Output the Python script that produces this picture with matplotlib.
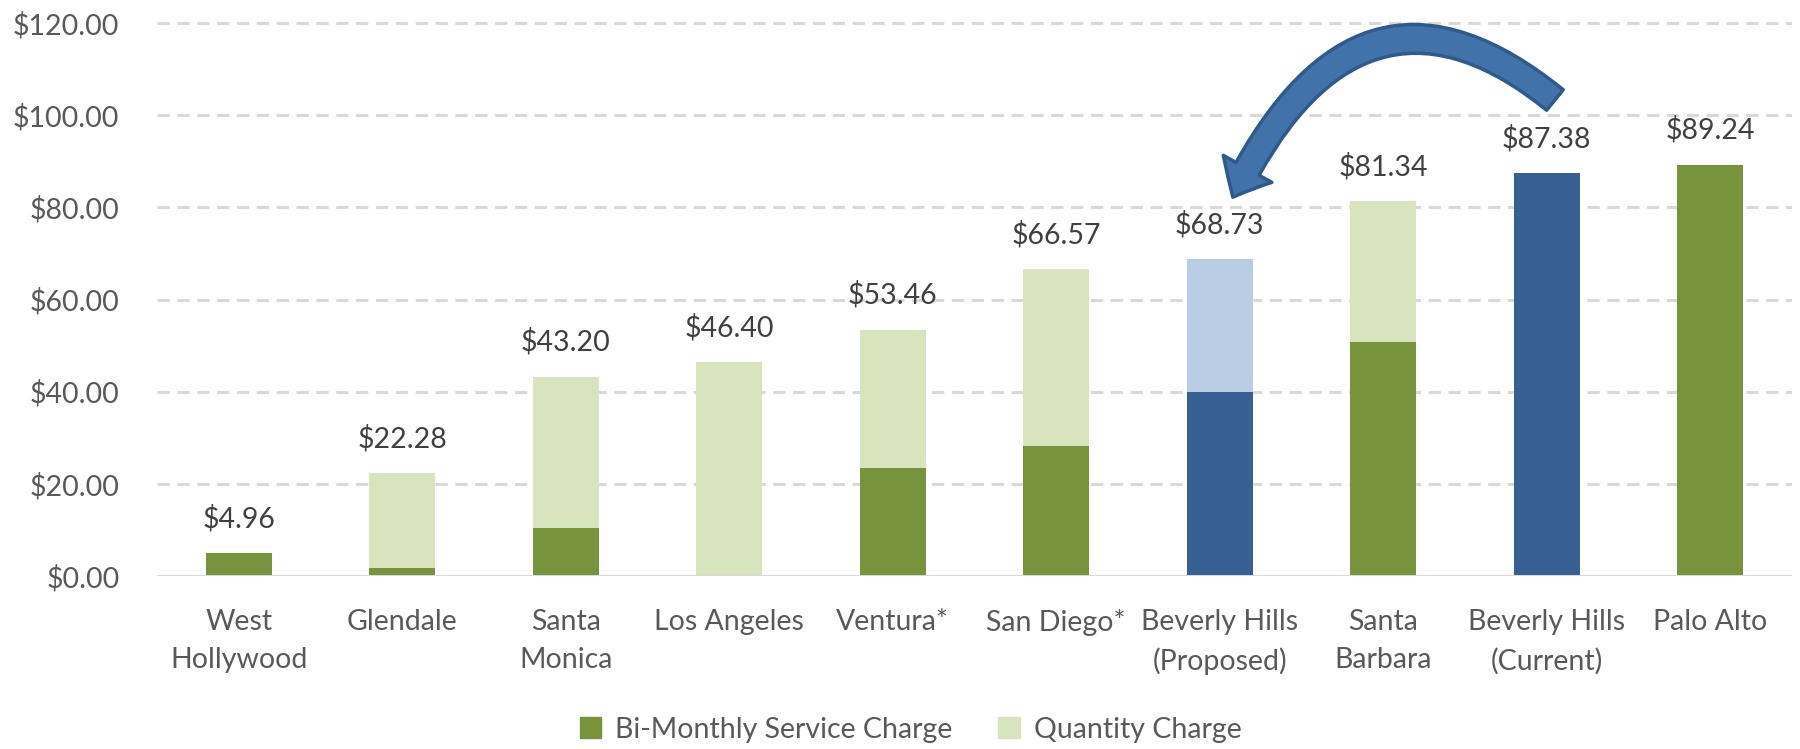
import numpy as np
import matplotlib
matplotlib.use("Agg")
import matplotlib.pyplot as plt
from matplotlib.patches import FancyArrowPatch, Patch

# data
cities = ["West\nHollywood", "Glendale", "Santa\nMonica", "Los Angeles", "Ventura*",
          "San Diego*", "Beverly Hills\n(Proposed)", "Santa\nBarbara",
          "Beverly Hills\n(Current)", "Palo Alto"]
service = np.array([4.96, 1.8, 10.5, 0.0, 23.4, 28.3, 40.0, 50.7, 87.38, 89.24])
totals = np.array([4.96, 22.28, 43.20, 46.40, 53.46, 66.57, 68.73, 81.34, 87.38, 89.24])
quantity = totals - service
yticks = [0, 20, 40, 60, 80, 100, 120]

GREEN_D = "#77933C"
GREEN_L = "#D7E4BD"
BLUE_D = "#366092"
BLUE_L = "#B9CDE5"
TXT = "#595959"

plt.rcParams["font.family"] = ["Lato", "DejaVu Sans"]

fig = plt.figure(figsize=(18, 7.49), dpi=100)
ax = fig.add_axes([157/1800, 1 - 576/749, (1792-157)/1800, (576-18.4)/749])

x = np.arange(len(cities))
bh = np.array(["Beverly Hills" in c for c in cities])
col_s = np.where(bh, BLUE_D, GREEN_D)
col_q = np.where(bh, BLUE_L, GREEN_L)

ax.bar(x, service, width=0.405, color=col_s, zorder=3)
ax.bar(x, quantity, bottom=service, width=0.405, color=col_q, zorder=3)

for xi, t in zip(x, totals):
    ax.annotate(f"${t:.2f}", (xi, t), xytext=(0, 25), textcoords="offset points",
                ha="center", va="center", fontsize=20.5, color="#404040")

ax.set_xlim(-0.5, len(cities) - 0.5)
ax.set_ylim(0, 121)
ax.set_yticks(yticks)
ax.set_yticklabels([f"${v:.2f}" for v in yticks], fontsize=20.5, color=TXT)
ax.set_xticks(x)
ax.set_xticklabels(cities, fontsize=20.5, color=TXT, linespacing=1.55)
ax.tick_params(axis="both", length=0)
ax.tick_params(axis="y", pad=27)
ax.tick_params(axis="x", pad=24)
for s in ["left", "right", "top", "bottom"]:
    ax.spines[s].set_visible(False)
for v in yticks[1:]:
    ax.axhline(v, color="#D9D9D9", lw=2.2, ls=(0, (4, 2.5)), zorder=1)
ax.axhline(0, color="#D9D9D9", lw=2.2, zorder=4)

# curved arrow from current to proposed
arrow = FancyArrowPatch((8.05, 103.3), (6.08, 82.2),
                        connectionstyle="angle3,angleA=141,angleB=64",
                        arrowstyle="simple,head_width=2.0,head_length=1.15,tail_width=0.95",
                        mutation_scale=20, shrinkA=0, shrinkB=0, clip_on=False,
                        facecolor="#4272AA", edgecolor="#2F5A8A", lw=2.5, zorder=6)
ax.add_patch(arrow)

handles = [Patch(color=GREEN_D, label="Bi-Monthly Service Charge"),
           Patch(color=GREEN_L, label="Quantity Charge")]
leg = fig.legend(handles=handles, loc="center", bbox_to_anchor=(0.506, 0.026), ncol=2,
                 frameon=False, fontsize=20.5, handlelength=0.75, handleheight=0.75,
                 handletextpad=0.5, columnspacing=1.6)
for t in leg.get_texts():
    t.set_color(TXT)

fig.savefig("out.png", dpi=100)
